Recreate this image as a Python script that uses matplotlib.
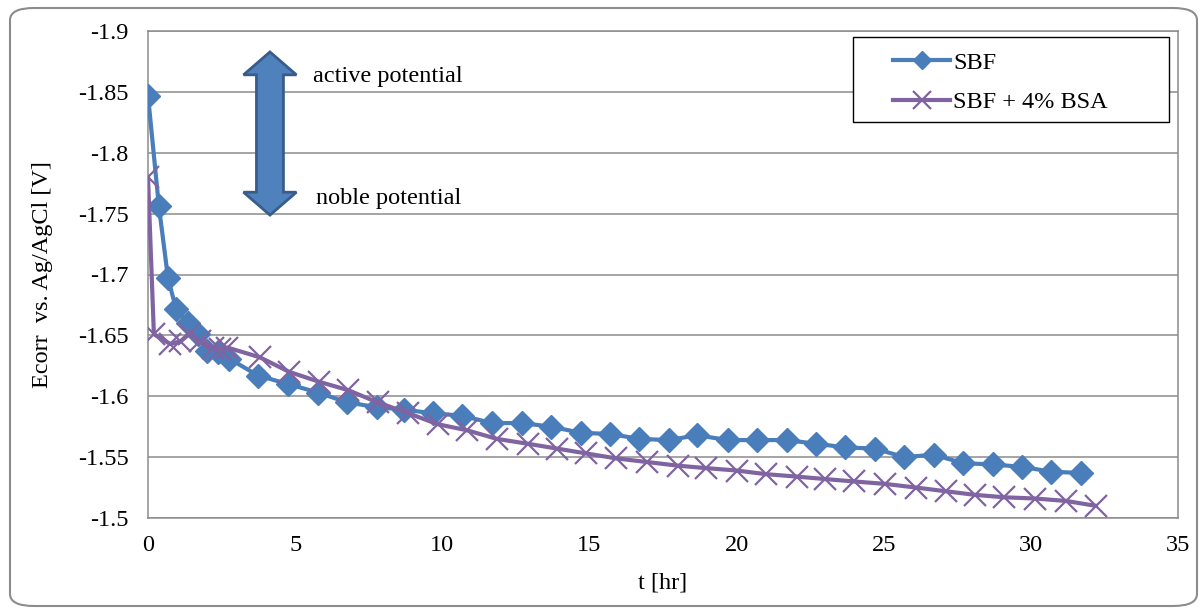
import matplotlib
matplotlib.use("Agg")
import matplotlib.pyplot as plt
from matplotlib.patches import Polygon, FancyBboxPatch, Rectangle

plt.rcParams['font.family'] = ['Liberation Serif', 'DejaVu Serif']

# SBF (diamonds)
sbf_t = [0, 0.37, 0.68, 0.95, 1.36, 1.7, 2.0, 2.38, 2.75,
         3.74, 4.76, 5.78, 6.76, 7.78, 8.7, 9.68, 10.67, 11.68, 12.7,
         13.7, 14.7, 15.7, 16.7, 17.7, 18.66, 19.7, 20.7, 21.7, 22.7,
         23.7, 24.7, 25.7, 26.7, 27.7, 28.7, 29.7, 30.7, 31.7]
sbf_e = [-1.847, -1.756, -1.697, -1.672, -1.660, -1.651, -1.637, -1.636, -1.631,
         -1.617, -1.610, -1.603, -1.595, -1.591, -1.589, -1.586, -1.584, -1.578, -1.578,
         -1.575, -1.570, -1.569, -1.565, -1.564, -1.568, -1.564, -1.564, -1.564, -1.561,
         -1.558, -1.557, -1.550, -1.552, -1.545, -1.544, -1.542, -1.538, -1.537]

# SBF + 4% BSA (crosses)
bsa_t = [0, 0.2, 0.75, 1.1, 1.4, 1.75, 2.2, 2.45, 2.7,
         3.8, 4.8, 5.8, 6.8, 7.8, 8.85, 9.85, 10.85, 11.85, 12.9,
         13.9, 14.9, 15.9, 16.95, 18.0, 18.95, 20.0, 21.0, 22.05, 23.0,
         24.0, 25.05, 26.1, 27.1, 28.1, 29.1, 30.15, 31.2, 32.2]
bsa_e = [-1.780, -1.651, -1.643, -1.645, -1.651, -1.645, -1.640, -1.639, -1.640,
         -1.632, -1.620, -1.612, -1.605, -1.595, -1.586, -1.577, -1.572, -1.565, -1.561,
         -1.557, -1.553, -1.549, -1.546, -1.543, -1.541, -1.539, -1.536, -1.534, -1.532,
         -1.530, -1.528, -1.525, -1.522, -1.519, -1.517, -1.516, -1.514, -1.510]

yticks = [-1.9, -1.85, -1.8, -1.75, -1.7, -1.65, -1.6, -1.55, -1.5]
ytick_labels = ['-1.9', '-1.85', '-1.8', '-1.75', '-1.7', '-1.65', '-1.6', '-1.55', '-1.5']
xticks = [0, 5, 10, 15, 20, 25, 30, 35]

blue = '#4a7ebb'
purple = '#8064a2'
fs = 17.5

fig = plt.figure(figsize=(12.03, 6.08), dpi=100)
W, H = 1203, 608
ax = fig.add_axes([148 / W, 1 - 518 / H, 1030 / W, 487 / H])

# chart area rounded frame
frame = FancyBboxPatch((10 / W, 2 / H), 1187 / W, 598 / H,
                       boxstyle="round,pad=0,rounding_size=0.02",
                       transform=fig.transFigure, facecolor='none',
                       edgecolor='#8c8c8c', linewidth=1.5)
fig.patches.append(frame)

for y in yticks:
    ax.axhline(y, color='#8c8c8c', linewidth=1.1, zorder=0)

ax.plot(sbf_t, sbf_e, color=blue, linewidth=3, marker='D', markersize=12,
        markerfacecolor=blue, markeredgecolor=blue, label='SBF', zorder=3)
ax.plot(bsa_t, bsa_e, color=purple, linewidth=3, marker='x', markersize=16,
        markeredgewidth=1.6, label='SBF + 4% BSA', zorder=4)

ax.set_xlim(0, 35)
ax.set_ylim(-1.5, -1.9)
ax.set_xticks(xticks)
ax.set_yticks(yticks)
ax.set_yticklabels(ytick_labels)
ax.tick_params(length=0, labelsize=fs)
ax.tick_params(axis='y', pad=14)
ax.tick_params(axis='x', pad=12)
for s in ax.spines.values():
    s.set_color('#8c8c8c')
    s.set_linewidth(1.1)

ax.set_xlabel('t [hr]', fontsize=fs, labelpad=12)
ax.set_ylabel('Ecorr  vs. Ag/AgCl [V]', fontsize=fs, labelpad=18)

# legend box drawn separately, legend itself without frame
ax.add_patch(Rectangle((0.6845, 0.813), 0.3068, 0.175, transform=ax.transAxes,
                       facecolor='white', edgecolor='black', linewidth=1.0, zorder=6))
leg = ax.legend(loc='upper left', bbox_to_anchor=(0.7233, 0.957),
                fontsize=fs, frameon=False, handlelength=2.35,
                borderpad=0, labelspacing=0.72, handletextpad=0.12,
                borderaxespad=0, markerscale=0.8)
leg.set_zorder(7)

# double-headed arrow (axes fraction)
cx, top, bot = 0.1184, 0.957, 0.622
sw, hw, hl = 0.0131, 0.0257, 0.047
pts = [(cx, top), (cx + hw, top - hl), (cx + sw, top - hl), (cx + sw, bot + hl),
       (cx + hw, bot + hl), (cx, bot), (cx - hw, bot + hl), (cx - sw, bot + hl),
       (cx - sw, top - hl), (cx - hw, top - hl)]
ax.add_patch(Polygon(pts, closed=True, transform=ax.transAxes,
                     facecolor='#4f81bd', edgecolor='#385d8a', linewidth=2, zorder=5))

ax.text(0.160, 0.906, 'active potential', transform=ax.transAxes,
        fontsize=fs, va='center', ha='left')
ax.text(0.163, 0.657, 'noble potential', transform=ax.transAxes,
        fontsize=fs, va='center', ha='left')

fig.savefig('out.png', dpi=100)
